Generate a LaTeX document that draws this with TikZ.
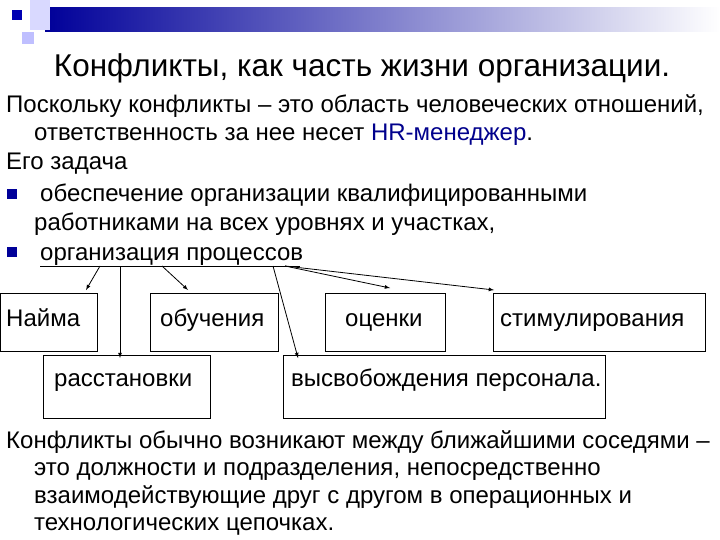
\documentclass[tikz,border=0pt]{standalone}
\usepackage{fontspec}
\setmainfont{Liberation Sans}
\begin{document}
\begin{tikzpicture}[x=1pt,y=-1pt,
  txt/.style={anchor=base west,inner sep=0pt,font=\fontsize{24}{26}\selectfont},
  box/.style={draw,thick,inner sep=0pt,anchor=north west},
  lbl/.style={inner sep=0pt,anchor=base west,font=\fontsize{24}{26}\selectfont},
  arr/.style={thick,-latex}]
\useasboundingbox (0,0) rectangle (720,540);
% decoration
\shade[left color=blue!60!black,right color=white] (45,8) rectangle (720,32);
\fill[blue!15] (30,0) rectangle (50,30);
\fill[blue!25] (22,32) rectangle (34,44);
\fill[blue!70!black] (12,10) rectangle (22,20);
\node[anchor=base,inner sep=0pt,font=\fontsize{31.5}{34}\selectfont] (title) at (362,77) {Конфликты, как часть жизни организации.};
\node[txt] (l1) at (6,113) {Поскольку конфликты – это область человеческих отношений,};
\node[txt] (l2) at (34,141) {ответственность за нее несет \textcolor{blue!55!black}{HR-менеджер}.};
\node[txt] (l3) at (6,170) {Его задача};
\node[txt] (l4) at (40,202) {обеспечение организации квалифицированными};
\node[txt] (l5) at (34,230) {работниками на всех уровнях и участках,};
\node[txt] (l6) at (40,260) {организация процессов};
\fill[blue!60!black] (l4.base west)++(-33,-13) rectangle ++(10,10);
\fill[blue!60!black] (l6.base west)++(-33,-13) rectangle ++(10,10);
\coordinate (u1) at (40,266);
\coordinate (u2) at (300,266);
\draw[thick] (u1) -- (u2);
% boxes
\node[box,minimum width=97,minimum height=58] (b1) at (0,293) {};
\node[box,minimum width=128,minimum height=58] (b2) at (150,293) {};
\node[box,minimum width=120,minimum height=58] (b3) at (325,293) {};
\node[box,minimum width=212,minimum height=58] (b4) at (493,293) {};
\node[box,minimum width=167,minimum height=63] (b5) at (43,355) {};
\node[box,minimum width=322,minimum height=63] (b6) at (283,355) {};
\node[lbl] (t1) at (6,326) {Найма};
\node[lbl] (t2) at (160,326) {обучения};
\node[lbl] (t3) at (345,326) {оценки};
\node[lbl] (t4) at (500,326) {стимулирования};
\node[lbl] (t5) at (54,386) {расстановки};
\node[lbl] (t6) at (291,386) {высвобождения персонала.};
\coordinate (a1) at (100,266); \coordinate (e1) at (86,290);
\coordinate (a2) at (120,266); \coordinate (e2) at (120,358);
\coordinate (a3) at (162,266); \coordinate (e3) at (188,290);
\coordinate (a4) at (273,266); \coordinate (e4) at (298,358);
\coordinate (a5) at (285,266); \coordinate (e5) at (390,288);
\coordinate (e6) at (494,290);
\draw[arr] (a1) -- (e1);
\draw[arr] (a2) -- (e2);
\draw[arr] (a3) -- (e3);
\draw[arr] (a4) -- (e4);
\draw[arr] (a5) -- (e5);
\draw[arr] (a5) -- (e6);
\node[txt] (m1) at (6,448) {Конфликты обычно возникают между ближайшими соседями –};
\node[txt] (m2) at (34,475) {это должности и подразделения, непосредственно};
\node[txt] (m3) at (34,503) {взаимодействующие друг с другом в операционных и};
\node[txt] (m4) at (34,530) {технологических цепочках.};
\end{tikzpicture}
\end{document}
